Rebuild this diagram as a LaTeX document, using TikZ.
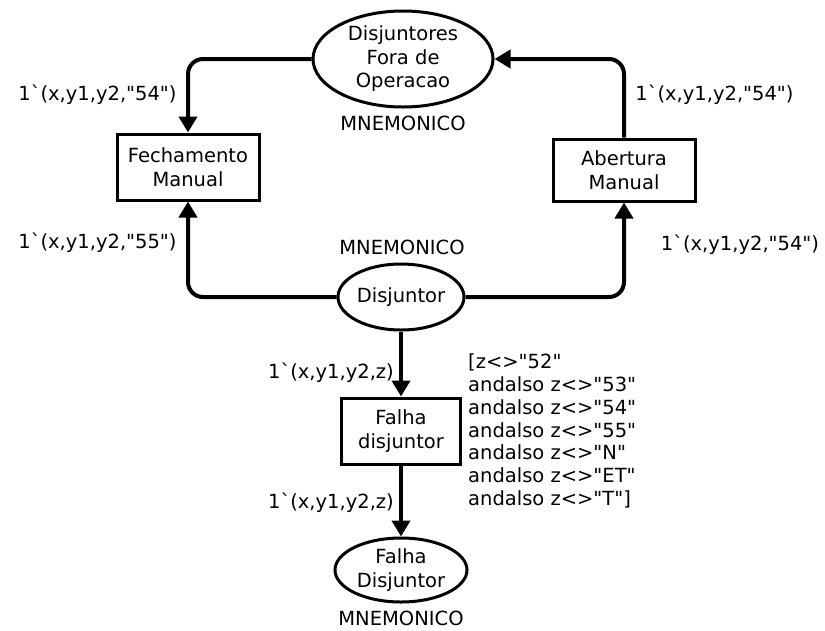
\documentclass[tikz,border=0pt]{standalone}
\usepackage{fontspec}
\newfontfamily\netfont{DejaVu Sans}
\usetikzlibrary{arrows.meta,shapes.geometric}
\begin{document}
\begin{tikzpicture}[x=1pt,y=-1pt,
  every node/.style={font=\netfont\fontsize{19.5}{23.5}\selectfont},
  place/.style={ellipse,draw,line width=3pt,inner sep=0pt,align=center},
  trans/.style={rectangle,draw,line width=3pt,inner sep=0pt,align=center},
  arc/.style={line width=4pt,rounded corners=15pt,-{Triangle[length=16pt,width=18pt]}},
  lbl/.style={inner sep=0pt}]
\useasboundingbox (0,0) rectangle (825,630);

% places
\node[place,minimum width=180pt,minimum height=96pt] (dfo) at (403,59) {Disjuntores\\Fora de\\Operacao};
\node[place,minimum width=126pt,minimum height=66pt] (dj) at (401,297) {Disjuntor};
\node[place,minimum width=132pt,minimum height=64pt] (fdp) at (401,570) {Falha\\Disjuntor};

% place colour-set labels
\node[lbl] (m1) at (403,123) {MNEMONICO};
\node[lbl] (m2) at (402,247) {MNEMONICO};
\node[lbl] (m3) at (401,618) {MNEMONICO};

% transitions
\node[trans,minimum width=142pt,minimum height=66pt] (fm) at (188,167) {Fechamento\\Manual};
\node[trans,minimum width=142pt,minimum height=62pt] (am) at (624,170) {Abertura\\Manual};
\node[trans,minimum width=119pt,minimum height=66pt] (fd) at (401,431) {Falha\\disjuntor};

% arcs
\draw[arc] (dfo.west) -| (fm.north);
\draw[arc] (am.north) |- (dfo.east);
\draw[arc] (dj.west) -| (fm.south);
\draw[arc] (dj.east) -| (am.south);
\draw[arc] (dj.south) -- (fd.north);
\draw[arc] (fd.south) -- (fdp.north);

% arc inscriptions
\node[lbl] (a1) at (97.5,95) {1`(x,y1,y2,"54")};
\node[lbl] (a2) at (714.5,95) {1`(x,y1,y2,"54")};
\node[lbl] (a3) at (97.5,243) {1`(x,y1,y2,"55")};
\node[lbl] (a4) at (740,245) {1`(x,y1,y2,"54")};
\node[lbl,anchor=east] (a5) at (394,373) {1`(x,y1,y2,z)};
\node[lbl,anchor=east] (a6) at (394,503) {1`(x,y1,y2,z)};

% guard
\node[lbl,anchor=west,align=left,font=\netfont\fontsize{19.5}{22.8}\selectfont] (g) at (468,431)
  {[z<>"52"\\andalso z<>"53"\\andalso z<>"54"\\andalso z<>"55"\\andalso z<>"N"\\andalso z<>"ET"\\andalso z<>"T"]};
\end{tikzpicture}
\end{document}
